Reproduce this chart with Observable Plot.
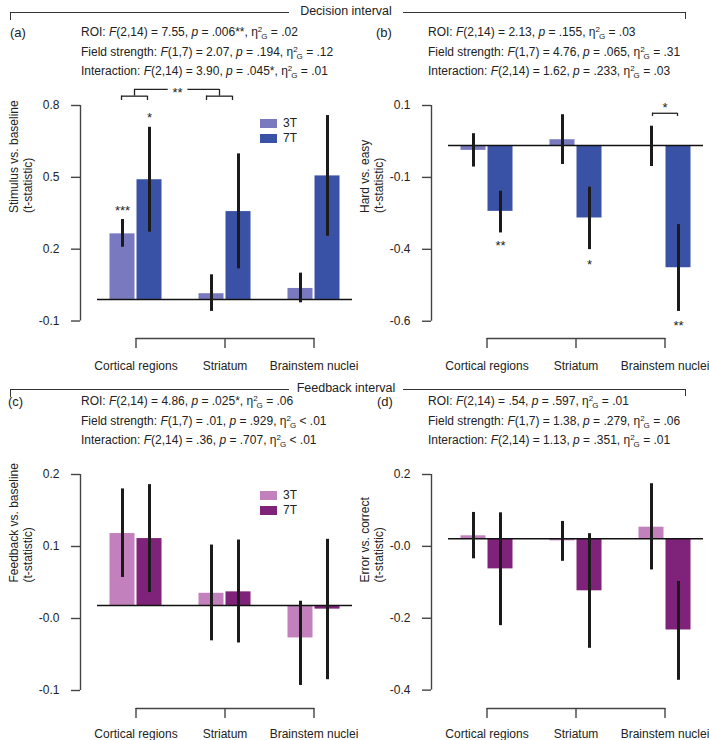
<!DOCTYPE html>
<html><head><meta charset="utf-8">
<script src="https://cdn.jsdelivr.net/npm/d3@7"></script>
<script src="https://cdn.jsdelivr.net/npm/@observablehq/plot@0.6"></script>
<style>
body{margin:0;background:#fff;}
#root{position:relative;width:709px;height:740px;font-family:"Liberation Sans",Arial,Helvetica,sans-serif;color:#222;overflow:hidden;}
.abs{position:absolute;}
.hdr{font-size:12.5px;line-height:12px;white-space:nowrap;text-align:center;width:120px;}
.stats{font-size:12px;line-height:19.5px;white-space:nowrap;}
.plabel{font-size:13px;line-height:14px;}
.stats sup,.stats sub{font-size:8px;line-height:0;}
.stats sup{vertical-align:4px;}
.stats sub{vertical-align:-3px;margin-left:-1px;}
</style></head>
<body><div id="root"></div>
<script>
const FONT = '"Liberation Sans", Arial, Helvetica, sans-serif';
const regions = ["Cortical regions", "Striatum", "Brainstem nuclei"];
const fields = ["3T", "7T"];

// Panel (a): Stimulus vs. baseline
const aMean3T = [0.274, 0.024, 0.046];
const aLo3T   = [0.218, -0.050, -0.014];
const aHi3T   = [0.334, 0.103, 0.110];
const aMean7T = [0.500, 0.367, 0.516];
const aLo7T   = [0.281, 0.128, 0.264];
const aHi7T   = [0.719, 0.608, 0.768];
const aTicks = [0.81, 0.51, 0.21, -0.09];
const aTickLabels = ["0.8", "0.5", "0.2", "-0.1"];
const aDomain = [-0.163, 0.81];

// Panel (b): Hard vs. easy
const bMean3T = [-0.017, 0.020, -0.003];
const bLo3T   = [-0.075, -0.066, -0.073];
const bHi3T   = [0.041, 0.107, 0.067];
const bMean7T = [-0.229, -0.252, -0.425];
const bLo7T   = [-0.304, -0.362, -0.577];
const bHi7T   = [-0.159, -0.145, -0.275];
const bTicks = [0.139, -0.111, -0.361, -0.611];
const bTickLabels = ["0.1", "-0.1", "-0.4", "-0.6"];
const bDomain = [-0.671, 0.139];

// Panel (c): Feedback vs. baseline
const cMean3T = [0.100, 0.017, -0.045];
const cLo3T   = [0.039, -0.049, -0.111];
const cHi3T   = [0.162, 0.084, 0.006];
const cMean7T = [0.093, 0.019, -0.005];
const cLo7T   = [0.018, -0.052, -0.103];
const cHi7T   = [0.168, 0.091, 0.092];
const cTicks = [0.182, 0.082, -0.018, -0.118];
const cTickLabels = ["0.2", "0.1", "-0.0", "-0.1"];
const cDomain = [-0.143, 0.182];

// Panel (d): Error vs. correct
const dMean3T = [0.008, -0.006, 0.032];
const dLo3T   = [-0.056, -0.063, -0.087];
const dHi3T   = [0.073, 0.048, 0.153];
const dMean7T = [-0.084, -0.145, -0.254];
const dLo7T   = [-0.242, -0.305, -0.394];
const dHi7T   = [0.072, 0.014, -0.119];
const dTicks = [0.1786, -0.0214, -0.2214, -0.4214];
const dTickLabels = ["0.2", "-0.0", "-0.2", "-0.4"];
const dDomain = [-0.4725, 0.1786];

// significance stars
const aStars3T = [{region: "Cortical regions", y: 0.370, label: "***"}];
const aStars7T = [{region: "Cortical regions", y: 0.759, label: "*"}];
const bStars7T = [
  {region: "Cortical regions", y: -0.350, label: "**"},
  {region: "Striatum", y: -0.416, label: "*"},
  {region: "Brainstem nuclei", y: -0.626, label: "**"}
];
const aBracketY = [0.831, 0.849, 0.877]; // tick end, small bracket, top bracket
const aBracketLabel = {y: 0.864, label: "**"};
const bBracketY = [0.101, 0.112];
const bBracketLabel = {y: 0.132, label: "*"};

// ANOVA text
const statsA = [["ROI", "2,14", "7.55", ".006**", "=", ".02"], ["Field strength", "1,7", "2.07", ".194", "=", ".12"], ["Interaction", "2,14", "3.90", ".045*", "=", ".01"]];
const statsB = [["ROI", "2,14", "2.13", ".155", "=", ".03"], ["Field strength", "1,7", "4.76", ".065", "=", ".31"], ["Interaction", "2,14", "1.62", ".233", "=", ".03"]];
const statsC = [["ROI", "2,14", "4.86", ".025*", "=", ".06"], ["Field strength", "1,7", ".01", ".929", "<", ".01"], ["Interaction", "2,14", ".36", ".707", "<", ".01"]];
const statsD = [["ROI", "2,14", ".54", ".597", "=", ".01"], ["Field strength", "1,7", "1.38", ".279", "=", ".06"], ["Interaction", "2,14", "1.13", ".351", "=", ".01"]];

const blueColors = ["#7879bf", "#3a52a5"];
const purpleColors = ["#c281bd", "#7e2379"];

const root = document.getElementById("root");
function addDiv(style, html, cls) {
  const d = document.createElement("div");
  d.className = "abs" + (cls ? " " + cls : "");
  Object.assign(d.style, style);
  if (html != null) d.innerHTML = html;
  root.appendChild(d);
  return d;
}

// interval headers
function header(y, text) {
  addDiv({left: "10px", top: y + "px", width: "278px", height: "7px", borderTop: "1.3px solid #333", borderLeft: "1.3px solid #333"});
  addDiv({left: (346 - 60) + "px", top: (y - 7) + "px"}, text, "hdr");
  addDiv({left: "403px", top: y + "px", width: "282px", height: "6px", borderTop: "1.3px solid #333", borderRight: "1.3px solid #333"});
}
header(12, "Decision interval");
header(389, "Feedback interval");

function stats(x, y, label, lx, rows) {
  addDiv({left: lx + "px", top: (y + 2.5) + "px"}, label, "plabel");
  const html = rows.map(([name, df, F, p, op, eta]) =>
    `${name}: <i>F</i>(${df}) = ${F}, <i>p</i> = ${p}, η<sup>2</sup><sub>G</sub> ${op} ${eta}`).join("<br>");
  addDiv({left: x + "px", top: y + "px"}, html, "stats");
}
stats(81, 23, "(a)", 10, statsA);
stats(428, 23, "(b)", 376, statsB);
stats(81, 392, "(c)", 8, statsC);
stats(428, 392, "(d)", 377, statsD);

function rows(m, lo, hi) {
  return regions.map((r, i) => ({region: r, v: m[i], lo: lo[i], hi: hi[i]}));
}

function panel(cfg) {
  const d3 = rows(cfg.m3, cfg.lo3, cfg.hi3);
  const d7 = rows(cfg.m7, cfg.lo7, cfg.hi7);
  const ticks = cfg.ticks;
  const axisStroke = "#444";
  const marks = [
    Plot.barY(d3, {x: "region", y: "v", fill: cfg.colors[0], insetLeft: 32, insetRight: 32, dx: -13.5}),
    Plot.barY(d7, {x: "region", y: "v", fill: cfg.colors[1], insetLeft: 32, insetRight: 32, dx: 13.5}),
    Plot.ruleY([0], {insetLeft: 17, stroke: "#111", strokeWidth: 1.5}),
    Plot.ruleX(d3, {x: "region", y1: "lo", y2: "hi", dx: -13.5, stroke: "#1b1b1b", strokeWidth: 3}),
    Plot.ruleX(d7, {x: "region", y1: "lo", y2: "hi", dx: 13.5, stroke: "#1b1b1b", strokeWidth: 3}),
    // y axis line (first to last tick)
    Plot.ruleX([regions[0]], {x: d => d, y1: ticks[0], y2: ticks[ticks.length - 1], dx: -55.5, stroke: axisStroke, strokeWidth: 1.4}),
    Plot.axisY({ticks, tickFormat: d => cfg.tickLabels[ticks.indexOf(d)], tickSize: 9, tickPadding: 12, label: null, stroke: axisStroke, strokeWidth: 1.4, fill: "#222", fontSize: 12}),
    // x axis bracket
    Plot.line([regions[0], regions[2]], {x: d => d, y: () => cfg.domain[0], stroke: axisStroke, strokeWidth: 1.4}),
    Plot.axisX({tickSize: 10, tickPadding: cfg.xpad, label: null, stroke: axisStroke, strokeWidth: 1.4, fill: "#222", fontSize: 12}),
    Plot.text([cfg.ylabel], {text: d => d, frameAnchor: "left", rotate: -90, dx: -60, dy: -9, lineHeight: 1.2, fontSize: 12, fill: "#222"})
  ];
  if (cfg.stars3) marks.push(Plot.text(cfg.stars3, {x: "region", y: "y", text: "label", dx: -13.5, fontSize: 13, fill: "#222"}));
  if (cfg.stars7) marks.push(Plot.text(cfg.stars7, {x: "region", y: "y", text: "label", dx: 13.5, fontSize: 13, fill: "#222"}));
  if (cfg.extra) marks.push(...cfg.extra);
  const svg = Plot.plot({
    width: 358, height: cfg.h,
    marginLeft: 80, marginRight: 6, marginTop: cfg.mt, marginBottom: cfg.mb,
    style: {fontFamily: FONT, fontSize: "12px", color: "#222", background: "transparent", overflow: "visible"},
    x: {type: "band", domain: regions, range: [91, 358], padding: 0, label: null},
    y: {domain: cfg.domain, label: null},
    marks
  });
  const holder = addDiv({left: cfg.left + "px", top: cfg.top + "px"});
  holder.appendChild(svg);
  if (cfg.legend) {
    const lg = Plot.legend({color: {type: "ordinal", domain: fields, range: cfg.colors}, swatchWidth: 17, swatchHeight: 9, columns: 1,
      style: {fontFamily: FONT, fontSize: "12px", color: "#222"}});
    const lh = addDiv({left: cfg.legend[0] + "px", top: cfg.legend[1] + "px"});
    lh.appendChild(lg);
  }
}

const bk = {stroke: "#222", strokeWidth: 1.3};
const aExtra = [
  Plot.ruleY([regions[0]], {x1: d => d, x2: d => d, y: () => aBracketY[1], insetLeft: 30, insetRight: 33, ...bk}),
  Plot.ruleX([regions[0]], {x: d => d, y1: () => aBracketY[0], y2: () => aBracketY[1], dx: -14.5, ...bk}),
  Plot.ruleX([regions[0]], {x: d => d, y1: () => aBracketY[0], y2: () => aBracketY[1], dx: 11.5, ...bk}),
  Plot.ruleX([regions[0]], {x: d => d, y1: () => aBracketY[1], y2: () => aBracketY[2], dx: -1.5, ...bk}),
  Plot.ruleY([[regions[0], regions[1]]], {x1: d => d[0], x2: d => d[1], y: () => aBracketY[2], insetLeft: 43, insetRight: 50, ...bk}),
  Plot.ruleX([regions[1]], {x: d => d, y1: () => aBracketY[1], y2: () => aBracketY[2], dx: -5.5, ...bk}),
  Plot.ruleY([regions[1]], {x1: d => d, x2: d => d, y: () => aBracketY[1], insetLeft: 26, insetRight: 37, ...bk}),
  Plot.ruleX([regions[1]], {x: d => d, y1: () => aBracketY[0], y2: () => aBracketY[1], dx: -18.5, ...bk}),
  Plot.ruleX([regions[1]], {x: d => d, y1: () => aBracketY[0], y2: () => aBracketY[1], dx: 7.5, ...bk}),
  Plot.text([aBracketLabel], {x: () => regions[0], y: "y", text: "label", dx: 41.5, fontSize: 13, fill: "#222", stroke: "white", strokeWidth: 10, paintOrder: "stroke"})
];
const bExtra = [
  Plot.ruleY([regions[2]], {x1: d => d, x2: d => d, y: () => bBracketY[1], insetLeft: 32, insetRight: 32, ...bk}),
  Plot.ruleX([regions[2]], {x: d => d, y1: () => bBracketY[0], y2: () => bBracketY[1], dx: -12.5, ...bk}),
  Plot.ruleX([regions[2]], {x: d => d, y1: () => bBracketY[0], y2: () => bBracketY[1], dx: 12.5, ...bk}),
  Plot.text([bBracketLabel], {x: () => regions[2], y: "y", text: "label", fontSize: 13, fill: "#222"})
];

panel({left: 0, top: 76, h: 300, mt: 29, mb: 38, xpad: 13, domain: aDomain, ticks: aTicks, tickLabels: aTickLabels,
  m3: aMean3T, lo3: aLo3T, hi3: aHi3T, m7: aMean7T, lo7: aLo7T, hi7: aHi7T, colors: blueColors,
  ylabel: "Stimulus vs. baseline\n(t-statistic)", stars3: aStars3T, stars7: aStars7T, extra: aExtra, legend: [260, 116]});
panel({left: 351, top: 76, h: 300, mt: 29, mb: 38, xpad: 13, domain: bDomain, ticks: bTicks, tickLabels: bTickLabels,
  m3: bMean3T, lo3: bLo3T, hi3: bHi3T, m7: bMean7T, lo7: bLo7T, hi7: bHi7T, colors: blueColors,
  ylabel: "Hard vs. easy\n(t-statistic)", stars7: bStars7T, extra: bExtra});
panel({left: 0, top: 449, h: 291, mt: 25, mb: 32, xpad: 10.5, domain: cDomain, ticks: cTicks, tickLabels: cTickLabels,
  m3: cMean3T, lo3: cLo3T, hi3: cHi3T, m7: cMean7T, lo7: cLo7T, hi7: cHi7T, colors: purpleColors,
  ylabel: "Feedback vs. baseline\n(t-statistic)", legend: [260, 488]});
panel({left: 351, top: 449, h: 291, mt: 25, mb: 32, xpad: 10.5, domain: dDomain, ticks: dTicks, tickLabels: dTickLabels,
  m3: dMean3T, lo3: dLo3T, hi3: dHi3T, m7: dMean7T, lo7: dLo7T, hi7: dHi7T, colors: purpleColors,
  ylabel: "Error vs. correct\n(t-statistic)"});
</script></body></html>
